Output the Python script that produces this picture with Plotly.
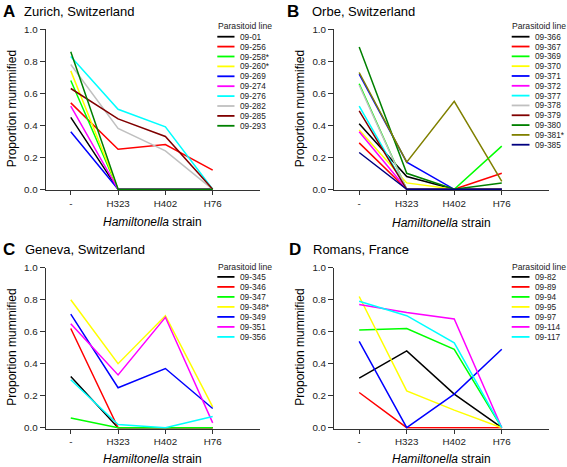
import plotly.graph_objects as go

W, H = 567, 467

# ---------------- data ----------------
categories = ["-", "H323", "H402", "H76"]

zurich_lines = ["09-01", "09-256", "09-258*", "09-260*", "09-269", "09-274",
                "09-276", "09-282", "09-285", "09-293"]
zurich_values = [
    [0.45, 0.00, 0.00, 0.00],
    [0.54, 0.25, 0.28, 0.12],
    [0.68, 0.00, 0.00, 0.00],
    [0.74, 0.00, 0.00, 0.00],
    [0.36, 0.00, 0.00, 0.00],
    [0.52, 0.00, 0.00, 0.00],
    [0.83, 0.50, 0.39, 0.00],
    [0.78, 0.38, 0.24, 0.00],
    [0.63, 0.44, 0.33, 0.00],
    [0.86, 0.00, 0.00, 0.00],
]

orbe_lines = ["09-366", "09-367", "09-369", "09-370", "09-371", "09-372",
              "09-377", "09-378", "09-379", "09-380", "09-381*", "09-385"]
orbe_values = [
    [0.41, 0.08, 0.00, 0.00],
    [0.29, 0.00, 0.00, 0.10],
    [0.66, 0.00, 0.00, 0.27],
    [0.37, 0.04, 0.00, 0.00],
    [0.72, 0.17, 0.00, 0.00],
    [0.36, 0.00, 0.00, 0.00],
    [0.52, 0.00, 0.00, 0.00],
    [0.65, 0.00, 0.00, 0.00],
    [0.49, 0.00, 0.00, 0.00],
    [0.89, 0.10, 0.00, 0.04],
    [0.73, 0.17, 0.55, 0.05],
    [0.23, 0.00, 0.00, 0.00],
]

geneva_lines = ["09-345", "09-346", "09-347", "09-348*", "09-349", "09-351", "09-356"]
geneva_values = [
    [0.32, 0.00, 0.00, 0.00],
    [0.62, 0.00, 0.00, 0.00],
    [0.06, 0.00, 0.00, 0.00],
    [0.80, 0.40, 0.70, 0.13],
    [0.71, 0.25, 0.37, 0.12],
    [0.65, 0.33, 0.69, 0.03],
    [0.30, 0.02, 0.00, 0.07],
]

romans_lines = ["09-82", "09-89", "09-94", "09-95", "09-97", "09-114", "09-117"]
romans_values = [
    [0.31, 0.48, 0.21, 0.00],
    [0.22, 0.00, 0.00, 0.00],
    [0.61, 0.62, 0.49, 0.00],
    [0.82, 0.23, 0.11, 0.00],
    [0.54, 0.00, 0.21, 0.49],
    [0.77, 0.72, 0.68, 0.00],
    [0.79, 0.70, 0.53, 0.00],
]

y_ticks = [0.0, 0.2, 0.4, 0.6, 0.8, 1.0]

# ---------------- styles ----------------
colors10 = ["#000000", "#FF0000", "#00FF00", "#FFFF00", "#0000FF", "#FF00FF",
            "#00FFFF", "#C0C0C0", "#800000", "#008000"]
colors12 = colors10 + ["#808000", "#000080"]
colors7 = colors10[:7]

FONT = "Liberation Sans, Arial, sans-serif"


def px(x):
    return x / W


def py(y):
    return 1 - y / H


panels = [
    dict(letter="A", title="Zurich, Switzerland", lines=zurich_lines, values=zurich_values,
         colors=colors10, x0=45.7, x1=260.0, ytop=29.3, ybot=189.3,
         letter_x=0.5, title_x=22.0, title_y=11.5,
         leg_x=216.0, leg_line=(217.3, 234.5), leg_text=237.5, leg_title_y=26.0,
         leg_row0=36.7, leg_dy=9.9, ytitle_x=12.0, xtitle_y=222.3),
    dict(letter="B", title="Orbe, Switzerland", lines=orbe_lines, values=orbe_values,
         colors=colors12, x0=334.0, x1=549.3, ytop=29.3, ybot=189.3,
         letter_x=285.0, title_x=310.3, title_y=11.5,
         leg_x=510.3, leg_line=(511.7, 529.5), leg_text=533.0, leg_title_y=26.0,
         leg_row0=36.7, leg_dy=9.82, ytitle_x=300.0, xtitle_y=222.5),
    dict(letter="C", title="Geneva, Switzerland", lines=geneva_lines, values=geneva_values,
         colors=colors7, x0=45.7, x1=260.0, ytop=267.7, ybot=427.7,
         letter_x=0.5, title_x=23.0, title_y=249.5,
         leg_x=216.0, leg_line=(217.3, 234.5), leg_text=237.5, leg_title_y=266.7,
         leg_row0=276.9, leg_dy=10.0, ytitle_x=12.0, xtitle_y=459.0),
    dict(letter="D", title="Romans, France", lines=romans_lines, values=romans_values,
         colors=colors7, x0=334.0, x1=549.3, ytop=267.7, ybot=427.7,
         letter_x=286.5, title_x=311.0, title_y=249.0,
         leg_x=510.3, leg_line=(511.7, 529.5), leg_text=533.0, leg_title_y=266.7,
         leg_row0=276.9, leg_dy=10.0, ytitle_x=300.0, xtitle_y=459.0),
]

fig = go.Figure()
annotations = []
shapes = []
layout_axes = {}

for i, p in enumerate(panels):
    suffix = "" if i == 0 else str(i + 1)
    xa, ya = "x" + suffix, "y" + suffix
    for name, vals, col in zip(p["lines"], p["values"], p["colors"]):
        fig.add_trace(go.Scatter(
            x=categories, y=vals, mode="lines", name=name,
            line=dict(color=col, width=1.5),
            xaxis=xa, yaxis=ya, showlegend=False, hoverinfo="x+y+name"))

    # one extra pixel at the bottom so lines at zero are not clipped
    ybot_ext = p["ybot"] + 1.0
    layout_axes["xaxis" + suffix] = dict(
        domain=[px(p["x0"]), px(p["x1"])], anchor=ya,
        type="category", categoryorder="array", categoryarray=categories,
        range=[-0.53, 4.0], showline=True, linecolor="#333", linewidth=1,
        ticks="outside", ticklen=4, tickcolor="#333", tickwidth=1,
        tickfont=dict(family=FONT, size=9.8, color="#222"),
        showgrid=False, zeroline=False, layer="below traces", fixedrange=True,
        automargin=False)
    layout_axes["yaxis" + suffix] = dict(
        domain=[py(ybot_ext), py(p["ytop"])], anchor=xa,
        range=[-1.0 / 160.0, 1.0], tickvals=y_ticks, tickformat=".1f",
        showline=True, linecolor="#333", linewidth=1,
        ticks="outside", ticklen=5, tickcolor="#333", tickwidth=1,
        tickfont=dict(family=FONT, size=9.8, color="#222"),
        showgrid=False, zeroline=False, layer="below traces", fixedrange=True,
        automargin=False)

    # panel letter and title
    annotations.append(dict(x=px(p["letter_x"]), y=py(p["title_y"]), xref="paper", yref="paper",
                            text="<b>%s</b>" % p["letter"], showarrow=False,
                            xanchor="left", yanchor="middle",
                            font=dict(family=FONT, size=17, color="#000")))
    annotations.append(dict(x=px(p["title_x"]), y=py(p["title_y"]), xref="paper", yref="paper",
                            text=p["title"], showarrow=False,
                            xanchor="left", yanchor="middle",
                            font=dict(family=FONT, size=13, color="#000")))
    # axis titles
    annotations.append(dict(x=px(p["ytitle_x"]), y=py((p["ytop"] + p["ybot"]) / 2),
                            xref="paper", yref="paper", text="Proportion mummified",
                            textangle=-90, showarrow=False,
                            xanchor="center", yanchor="middle",
                            font=dict(family=FONT, size=12, color="#000")))
    annotations.append(dict(x=px((p["x0"] + p["x1"]) / 2), y=py(p["xtitle_y"]),
                            xref="paper", yref="paper", text="<i>Hamiltonella</i> strain",
                            showarrow=False, xanchor="center", yanchor="middle",
                            font=dict(family=FONT, size=12, color="#000")))
    # legend (compact, drawn manually)
    annotations.append(dict(x=px(p["leg_x"]), y=py(p["leg_title_y"]), xref="paper", yref="paper",
                            text="Parasitoid line", showarrow=False,
                            xanchor="left", yanchor="middle",
                            font=dict(family=FONT, size=8.6, color="#222")))
    for k, (name, col) in enumerate(zip(p["lines"], p["colors"])):
        yy = p["leg_row0"] + k * p["leg_dy"]
        shapes.append(dict(type="line", xref="paper", yref="paper",
                           x0=px(p["leg_line"][0]), x1=px(p["leg_line"][1]),
                           y0=py(yy), y1=py(yy), line=dict(color=col, width=1.8)))
        annotations.append(dict(x=px(p["leg_text"]), y=py(yy), xref="paper", yref="paper",
                                text=name, showarrow=False, xanchor="left", yanchor="middle",
                                font=dict(family=FONT, size=8.3, color="#222")))

fig.update_layout(
    width=W, height=H, autosize=False,
    margin=dict(l=0, r=0, t=0, b=0, pad=0),
    paper_bgcolor="white", plot_bgcolor="white",
    showlegend=False,
    font=dict(family=FONT, color="#222"),
    annotations=annotations, shapes=shapes,
    **layout_axes)

page_fix = (
    "(function(){"
    "var els=[document.documentElement, document.body];"
    "for(var i=0;i<els.length;i++){var s=els[i].style;"
    "s.margin='0';s.padding='0';s.overflow='hidden';"
    "s.width='567px';s.height='467px';}"
    "})();"
)

fig.write_html("out.html", config={"displayModeBar": False}, post_script=page_fix)
